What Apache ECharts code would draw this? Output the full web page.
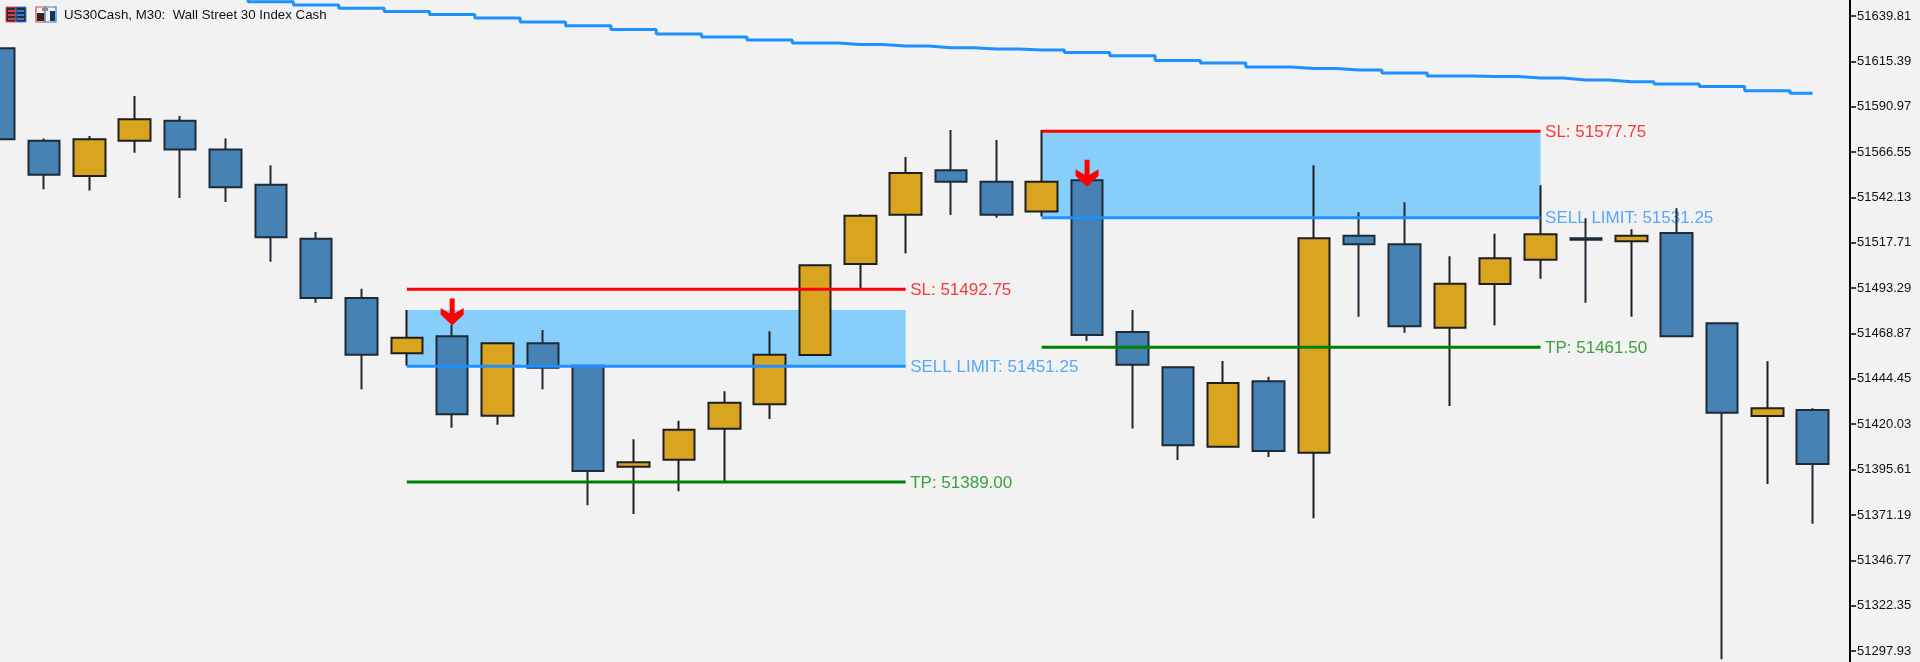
<!DOCTYPE html>
<html>
<head>
<meta charset="utf-8">
<style>html,body{margin:0;padding:0;background:#f2f2f2;overflow:hidden;width:1920px;height:662px}#c{position:absolute;left:-24px;top:0;width:1944px;height:662px}</style>
<script src="https://cdn.jsdelivr.net/npm/echarts@6/dist/echarts.min.js"></script>
</head>
<body>
<div id="c"></div>
<script>
// [open, close, low, high]
const candles = [
[51622.4,51573.4,51573.4,51622.4],[51572.7,51554.4,51546.5,51573.8],[51553.7,51573.4,51545.8,51575.2],
[51572.7,51584.2,51566.2,51596.7],[51583.4,51568.0,51541.8,51586.0],[51568.0,51547.6,51539.7,51573.8],
[51549.0,51520.7,51507.5,51559.4],[51519.9,51488.0,51485.5,51523.5],[51488.0,51457.5,51438.8,51493.0],
[51458.2,51466.6,51451.5,51481.5],[51467.4,51425.4,51418.2,51473.5],[51424.6,51463.6,51419.8,51463.6],
[51463.6,51450.5,51438.8,51470.8],[51451.5,51394.9,51376.4,51451.5],[51397.2,51399.5,51371.7,51411.9],
[51400.9,51417.1,51383.9,51421.9],[51417.6,51431.6,51389.5,51437.8],[51430.8,51457.5,51422.9,51470.1],
[51457.3,51505.6,51457.3,51505.6],[51506.3,51532.3,51493.0,51533.2],[51532.8,51555.3,51512.1,51563.9],
[51556.7,51550.6,51532.7,51578.4],[51550.6,51532.8,51531.2,51573.1],[51534.5,51550.6,51531.8,51578.4],
[51551.4,51468.1,51464.8,51553.0],[51469.7,51452.1,51417.8,51481.5],[51450.7,51408.7,51400.8,51450.7],
[51407.9,51442.2,51407.9,51454.1],[51443.2,51405.6,51402.4,51445.6],[51404.7,51520.1,51369.4,51559.4],
[51521.5,51516.9,51477.9,51534.1],[51516.9,51472.8,51469.3,51539.5],[51472.0,51495.7,51429.9,51510.4],
[51495.5,51509.4,51473.3,51522.6],[51508.6,51522.3,51498.4,51548.7],[51520.2,51519.4,51485.5,51530.9],
[51518.5,51521.5,51477.9,51525.0],[51523.0,51467.4,51467.4,51536.3],[51474.4,51426.2,51293.5,51474.4],
[51424.5,51428.6,51387.9,51453.9],[51427.7,51398.6,51366.5,51428.6]
];
const maStart = 5;
const maValues = [51649.2,51647.5,51645.7,51644.0,51642.2,51640.6,51638.7,51636.6,51634.6,51632.5,51630.1,51628.5,
51626.9,51625.3,51624.5,51623.7,51622.7,51622.0,51621.5,51620.2,51618.4,51615.9,51614.5,51612.4,51611.6,51610.7,
51609.1,51607.5,51607.2,51606.4,51605.4,51604.4,51603.2,51601.8,51599.6,51598.2];
const tickValues = [51639.81,51615.39,51590.97,51566.55,51542.13,51517.71,51493.29,51468.87,51444.45,51420.03,51395.61,51371.19,51346.77,51322.35,51297.93];
const tradeStart = [9,23];
const tradeEnd = [20,34];
const slPrices = [51492.75,51577.75];
const limitPrices = [51451.25,51531.25];
const tpPrices = [51389.00,51461.50];
const zoneTops = [51481.5,51577.75];
const arrowPoints = [[10,51480.5],[24,51555.1]];
const titleText = 'US30Cash, M30:  Wall Street 30 Index Cash';
const categories = candles.map((_,i)=>'c'+i).concat(['']);

const C = {sl:'#ff0000', limit:'#1e90ff', tp:'#008000', slT:'#fa0a0a', limitT:'#2f95ff', tpT:'#118a14'};
function priceLine(name,i,p,color){
  return {name:name,type:'line',z:4,showSymbol:false,silent:true,lineStyle:{color:color,width:3},
    data:[[tradeStart[i],p],[tradeEnd[i],p]]};
}
const series = [];
series.push({type:'line',z:1,data:[],silent:true,markArea:{silent:true,itemStyle:{color:'#87cefa',opacity:1},
  data:tradeStart.map((s,i)=>[{xAxis:s,yAxis:zoneTops[i]},{xAxis:tradeEnd[i],yAxis:limitPrices[i]}])}});
const labelData=[];
tradeStart.forEach((s,i)=>{
  labelData.push({value:[tradeEnd[i],slPrices[i]],t:'SL: '+slPrices[i].toFixed(2),c:C.slT});
  labelData.push({value:[tradeEnd[i],limitPrices[i]],t:'SELL LIMIT: '+limitPrices[i].toFixed(2),c:C.limitT});
  labelData.push({value:[tradeEnd[i],tpPrices[i]],t:'TP: '+tpPrices[i].toFixed(2),c:C.tpT});
});
series.push({type:'scatter',z:2,symbolSize:1,silent:true,itemStyle:{color:'rgba(0,0,0,0)'},
  data:labelData.map(d=>({value:d.value,label:{show:true,position:'right',distance:4,offset:[0,1],formatter:d.t,color:d.c,
    fontFamily:'Liberation Sans',fontSize:17}}))});
series.push({type:'candlestick',z:3,barWidth:32,silent:true,data:candles,
  itemStyle:{color:'#d9a520',color0:'#4682b4',borderColor:'#1e1e1e',borderColor0:'#1e2a36',borderColorDoji:'#000',borderWidth:2}});
tradeStart.forEach((s,i)=>{
  series.push(priceLine('sl'+i,i,slPrices[i],C.sl));
  series.push(priceLine('limit'+i,i,limitPrices[i],C.limit));
  series.push(priceLine('tp'+i,i,tpPrices[i],C.tp));
});
series.push({name:'ma',type:'line',z:4,showSymbol:false,silent:true,step:'middle',lineStyle:{color:'#1e90ff',width:3},
  data:maValues.map((v,i)=>[i+maStart,v])});
series.push({name:'arrows',type:'scatter',z:5,silent:true,data:arrowPoints,symbolSize:[23,27],
  symbol:'path://M9,0 L14,0 L14,15 L23,9.5 L23,16 L11.5,27 L0,16 L0,9.5 L9,15 Z',itemStyle:{color:'#ff0000',opacity:1}});

const dx=24;
const icon1=[{type:'rect',shape:{x:6+dx,y:7,width:10,height:15},style:{fill:'#2b2b33',stroke:'#f05050',lineWidth:1}},
 {type:'rect',shape:{x:16+dx,y:7,width:10,height:15},style:{fill:'#2b2b33',stroke:'#3b82e0',lineWidth:1}}];
[10,14,18].forEach(y=>{
  icon1.push({type:'rect',shape:{x:8+dx,y:y,width:7,height:2},style:{fill:'#e83a3a'}});
  icon1.push({type:'rect',shape:{x:17+dx,y:y,width:7,height:2},style:{fill:'#2f7fe0'}});
});
const icon2=[{type:'rect',shape:{x:36+dx,y:7,width:9,height:15},style:{fill:'#f2f2f2',stroke:'#e84040',lineWidth:1.2}},
 {type:'rect',shape:{x:37+dx,y:13,width:7,height:8},style:{fill:'#3a2020'}},
 {type:'rect',shape:{x:45+dx,y:7,width:11,height:15},style:{fill:'#f2f2f2',stroke:'#2f7fe0',lineWidth:1.2}},
 {type:'rect',shape:{x:42+dx,y:8,width:6,height:3},style:{fill:'#8a8a8a'}},
 {type:'rect',shape:{x:50+dx,y:11,width:5,height:10},style:{fill:'#12335a'}}];

const chart = echarts.init(document.getElementById('c'),null,{renderer:'canvas'});
chart.setOption({
  animation:false,
  backgroundColor:'#f2f2f2',
  grid:{left:0,top:0,width:1904.7,height:662,containLabel:false},
  xAxis:{type:'category',data:categories,show:false,boundaryGap:true},
  yAxis:{type:'value',position:'right',offset:-30.67,min:51292.03,max:51648.42,scale:true,
    splitLine:{show:false},
    axisLine:{show:true,onZero:false,lineStyle:{color:'#000',width:2}},
    axisTick:{show:true,length:6,lineStyle:{color:'#000',width:1.5},customValues:tickValues},
    axisLabel:{show:true,margin:7,color:'#111',fontFamily:'Liberation Sans',fontSize:13,
      customValues:tickValues,formatter:v=>v.toFixed(2)}},
  series:series,
  graphic:icon1.concat(icon2).concat([{type:'text',x:64+dx,y:9,style:{text:titleText,fill:'#111',font:'13.3px "Liberation Sans"'}}])
});
</script>
</body>
</html>
